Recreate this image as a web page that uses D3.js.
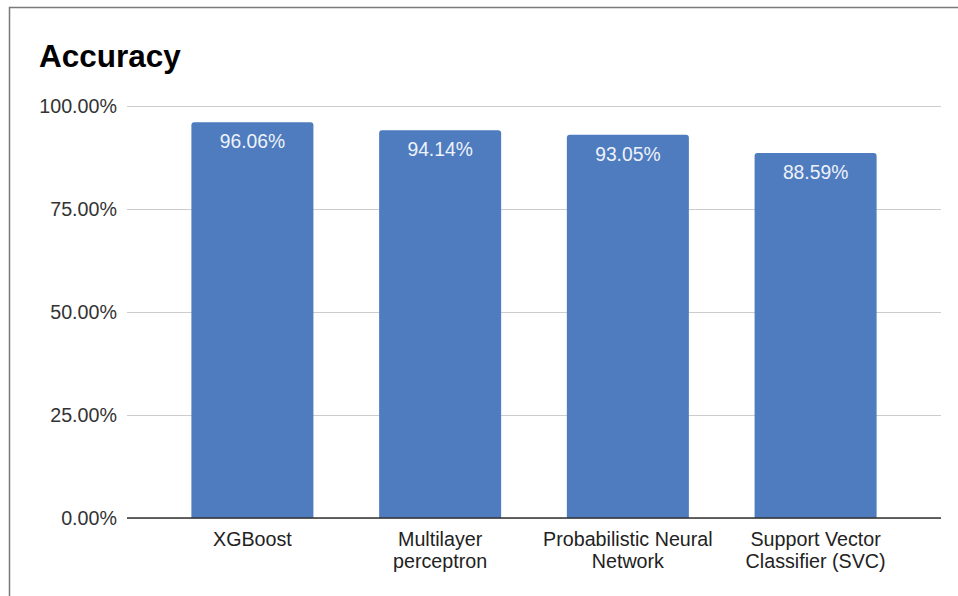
<!DOCTYPE html>
<html>
<head>
<meta charset="utf-8">
<script src="https://cdn.jsdelivr.net/npm/d3@7"></script>
<style>
  html, body { margin: 0; padding: 0; background: #fff; }
  svg { display: block; font-family: "Liberation Sans", Arial, sans-serif; }
</style>
</head>
<body>
<svg id="chart" width="958" height="596"></svg>
<script>
// Model names (each split into display lines) and their accuracy in percent
const categories = [
  ["XGBoost"],
  ["Multilayer", "perceptron"],
  ["Probabilistic Neural", "Network"],
  ["Support Vector", "Classifier (SVC)"]
];
const accuracy = [96.06, 94.14, 93.05, 88.59];
const yTicks = [0, 25, 50, 75, 100];

const svg = d3.select("#chart");
const W = 958, H = 596;
const plot = { left: 127, right: 941, top: 106, bottom: 518 };

// Frame (left and top edges)
svg.append("path")
  .attr("d", `M9.5,${H} V7.5 H${W}`)
  .attr("fill", "none")
  .attr("stroke", "#7a7a7a")
  .attr("stroke-width", 1.5);

// Title
svg.append("text")
  .attr("x", 39).attr("y", 67)
  .attr("font-size", 31.5).attr("font-weight", "bold")
  .attr("fill", "#000")
  .text("Accuracy");

const keys = categories.map(c => c.join(" "));
const x = d3.scaleBand()
  .domain(keys)
  .range([plot.left, plot.right])
  .paddingInner(0.35)
  .paddingOuter(0.343);

const y = d3.scaleLinear().domain([0, 100]).range([plot.bottom, plot.top]);

// Gridlines and y tick labels
const yAxis = d3.axisLeft(y)
  .tickValues(yTicks)
  .tickSize(-(plot.right - plot.left))
  .tickPadding(10)
  .tickFormat(d => d.toFixed(2) + "%");

const gy = svg.append("g")
  .attr("transform", `translate(${plot.left},0)`)
  .call(yAxis);
gy.select(".domain").remove();
gy.selectAll(".tick line").attr("stroke", "#cccccc").attr("stroke-width", 1);
gy.selectAll(".tick text")
  .attr("font-size", 19.7)
  .attr("fill", "#333")
  .attr("font-family", "Liberation Sans, Arial, sans-serif");

// Bars with slightly rounded top corners
const data = keys.map((k, i) => ({ key: k, lines: categories[i], value: accuracy[i] }));
const r = 3;
svg.append("g").selectAll("path")
  .data(data)
  .join("path")
  .attr("fill", "#4e7cbf")
  .attr("d", d => {
    const x0 = x(d.key), x1 = x0 + x.bandwidth();
    const yt = y(d.value), yb = y(0);
    return `M${x0},${yb} V${yt + r} Q${x0},${yt} ${x0 + r},${yt} H${x1 - r} Q${x1},${yt} ${x1},${yt + r} V${yb} Z`;
  });

// Value labels inside bars
svg.append("g").selectAll("text")
  .data(data)
  .join("text")
  .attr("x", d => x(d.key) + x.bandwidth() / 2)
  .attr("y", d => y(d.value) + 26)
  .attr("text-anchor", "middle")
  .attr("font-size", 19.3)
  .attr("fill", "#eef2fa")
  .text(d => d.value.toFixed(2) + "%");

// Baseline at 0%
svg.append("line")
  .attr("x1", plot.left).attr("x2", plot.right)
  .attr("y1", y(0)).attr("y2", y(0))
  .attr("stroke", "#333").attr("stroke-width", 1.5);

// Category labels
const gx = svg.append("g").selectAll("text")
  .data(data)
  .join("text")
  .attr("text-anchor", "middle")
  .attr("font-size", 19.7)
  .attr("fill", "#222")
  .attr("transform", d => `translate(${x(d.key) + x.bandwidth() / 2},${y(0) + 28})`);
gx.selectAll("tspan")
  .data(d => d.lines)
  .join("tspan")
  .attr("x", 0)
  .attr("dy", (d, i) => i === 0 ? 0 : 22)
  .text(d => d);
</script>
</body>
</html>
